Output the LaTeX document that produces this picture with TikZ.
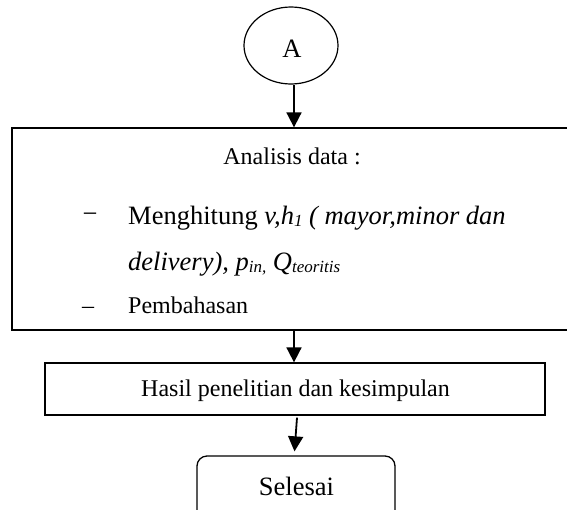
\documentclass[tikz,border=0pt]{standalone}
\usepackage{fontspec}
\setmainfont{Liberation Serif}
\usetikzlibrary{arrows.meta,calc,shapes.geometric}
\newcommand\subtx[1]{\raisebox{-2pt}{\fontsize{17}{17}\selectfont\itshape #1}}
\begin{document}
\begin{tikzpicture}[x=1pt,y=-1pt,
  font=\fontsize{24}{28}\selectfont,
  boxst/.style={draw, line width=1.3pt, rectangle, inner sep=0pt},
  txt/.style={inner sep=0pt},
  bigtxt/.style={inner sep=0pt, font=\fontsize{26.5}{30}\selectfont},
  arr/.style={line width=1.8pt, -{Triangle[length=15pt,width=15pt]}}]
\useasboundingbox (0,0) rectangle (567,509);
% start connector
\node[ellipse, draw, line width=1.2pt, minimum width=94pt, minimum height=77pt, inner sep=0pt] (ell) at (291,45.5) {};
\node[bigtxt, anchor=base] (lblA) at (292,57) {A};
% analysis box
\node[boxst, minimum width=564pt, minimum height=202pt] (big) at (294,229) {};
\node[txt, anchor=base] (t1) at (292,164) {Analisis data :};
\node[bigtxt, anchor=base] (d1) at (90,222) {−};
\node[bigtxt, anchor=base west] (l1) at (128,224) {Menghitung \textit{v,h}\subtx{1}\textit{ ( mayor,minor dan}};
\node[bigtxt, anchor=base west] (l2) at (128,270) {\textit{delivery), p}\subtx{in,} \textit{Q}\subtx{teoritis}};
\node[txt, anchor=base] (d2) at (88,313) {–};
\node[txt, anchor=base west] (l3) at (128,313) {Pembahasan};
% results box
\node[boxst, minimum width=500pt, minimum height=52pt] (hasil) at (295,389) {};
\node[txt, anchor=base] (t2) at (295.5,396) {Hasil penelitian dan kesimpulan};
% end terminator
\node[draw, line width=1.3pt, rounded corners=10pt, minimum width=198pt, minimum height=80pt, inner sep=0pt] (sel) at (296,496) {};
\node[bigtxt, anchor=base] (t3) at (296.5,495) {Selesai};
% connectors
\draw[arr] (ell.south -| big.north) -- (big.north);
\draw[arr] (big.south) -- (hasil.north -| big.south);
\draw[arr] ($(hasil.south)+(2,2)$) -- ($(sel.north)+(-1.5,-4)$);
\end{tikzpicture}
\end{document}
